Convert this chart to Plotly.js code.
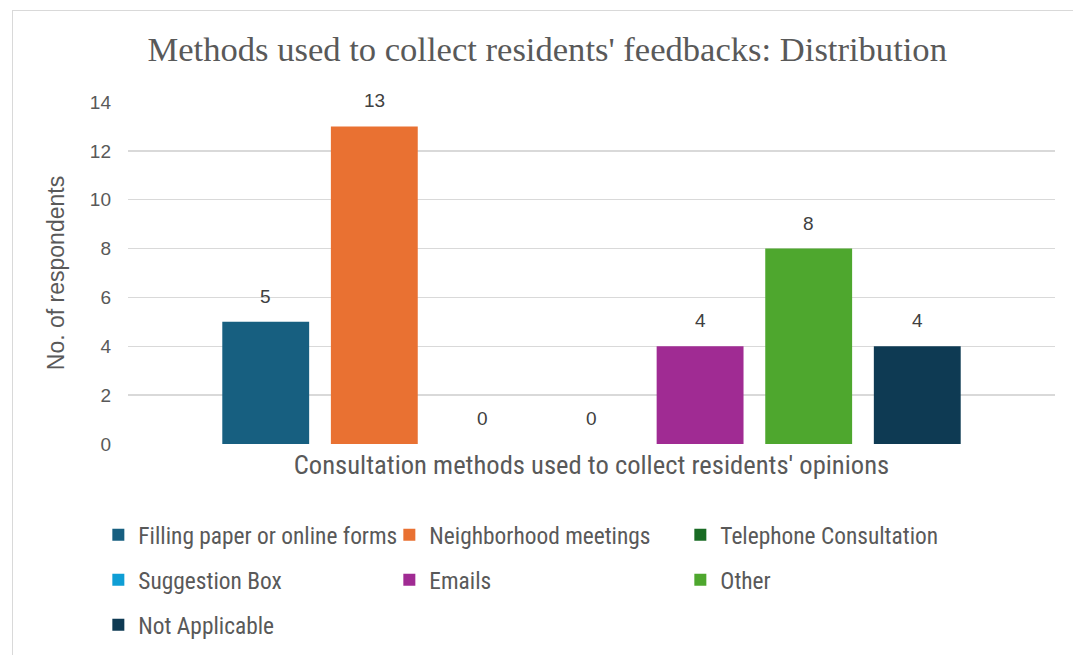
<!DOCTYPE html>
<html><head><meta charset="utf-8">
<script src="https://cdn.plot.ly/plotly-3.0.1.min.js"></script>
<style>body{margin:0;background:#fff}#wrap{position:relative;width:1073px;height:655px}
#frame{position:absolute;left:12px;top:10px;width:1080px;height:660px;border:1px solid #d9d9d9;pointer-events:none}</style>
</head><body><div id="wrap"><div id="chart" style="width:1073px;height:655px"></div><div id="frame"></div></div>
<script>
const seriesNames = ["Filling paper or online forms","Neighborhood meetings","Telephone Consultation","Suggestion Box","Emails","Other","Not Applicable"];
const seriesValues = [5, 13, 0, 0, 4, 8, 4];
const seriesColors = ["#175f80","#e97132","#196b24","#0f9ed5","#a02b93","#4ea72e","#0e3a53"];
const legendRow = ["legend","legend","legend","legend2","legend2","legend2","legend3"];
const category = [""];
const yTicks = [0,2,4,6,8,10,12,14];

const BARGAP = 0.18;
const traces = seriesNames.map((n,i)=>({
  type:'bar', name:n, x:category, y:[seriesValues[i]],
  marker:{color:seriesColors[i]},
  legend:legendRow[i], hoverinfo:'name+y'
}));

// data labels: a hidden category axis with one slot per series, aligned with the grouped bars
const nS = seriesNames.length;
const edge = (BARGAP/2) * nS / (1 - BARGAP) + 0.5;
const annotations = seriesNames.map((n,i)=>({
  x:n, xref:'x2', y:seriesValues[i], yref:'y', text:String(seriesValues[i]),
  showarrow:false, yanchor:'bottom', yshift:13,
  font:{family:'"Liberation Sans", Arial, sans-serif', size:19, color:'#404040'}
}));

const legFont = {family:'"Roboto Condensed", "Liberation Sans Narrow", Arial, sans-serif', size:23.4, color:'#595959'};
const legBase = {orientation:'h', x:-0.032, xanchor:'left', yanchor:'middle', entrywidth:246, entrywidthmode:'pixels',
  font:legFont, itemwidth:30, traceorder:'normal', bgcolor:'rgba(0,0,0,0)'};

const layout = {
  width:1073, height:655,
  margin:{l:128, r:18, t:102, b:211, autoexpand:false},
  paper_bgcolor:'#fff', plot_bgcolor:'#fff',
  title:{text:"Methods used to collect residents' feedbacks: Distribution", x:0.51, xanchor:'center', y:0.925, yanchor:'middle',
    font:{family:'"Liberation Serif", "Times New Roman", serif', size:34.6, color:'#595959'}},
  barmode:'group', bargap:BARGAP, bargroupgap:0.2,
  xaxis:{showticklabels:false, showgrid:false, zeroline:false, showline:false, ticks:'',
    title:{text:"Consultation methods used to collect residents' opinions", standoff:11,
      font:{family:'"Roboto Condensed", "Liberation Sans Narrow", Arial, sans-serif', size:26.6, color:'#595959'}}},
  xaxis2:{overlaying:'x', visible:false, type:'category', categoryarray:seriesNames, categoryorder:'array',
    range:[-edge, nS - 1 + edge]},
  yaxis:{range:[0,14], tickvals:yTicks, showgrid:true, gridcolor:'#d9d9d9', gridwidth:1.3, zeroline:false, showline:false,
    tickfont:{family:'"Liberation Sans", Arial, sans-serif', size:19, color:'#595959'}, ticklabelstandoff:16,
    title:{text:'No. of respondents', standoff:18, font:{family:'"Liberation Sans", Arial, sans-serif', size:23, color:'#595959'}}},
  annotations:annotations,
  showlegend:true,
  legend:Object.assign({}, legBase, {y:-0.266}),
  legend2:Object.assign({}, legBase, {y:-0.398}),
  legend3:Object.assign({}, legBase, {y:-0.529})
};
Plotly.newPlot('chart', traces, layout, {displayModeBar:false, staticPlot:true});
</script></body></html>
